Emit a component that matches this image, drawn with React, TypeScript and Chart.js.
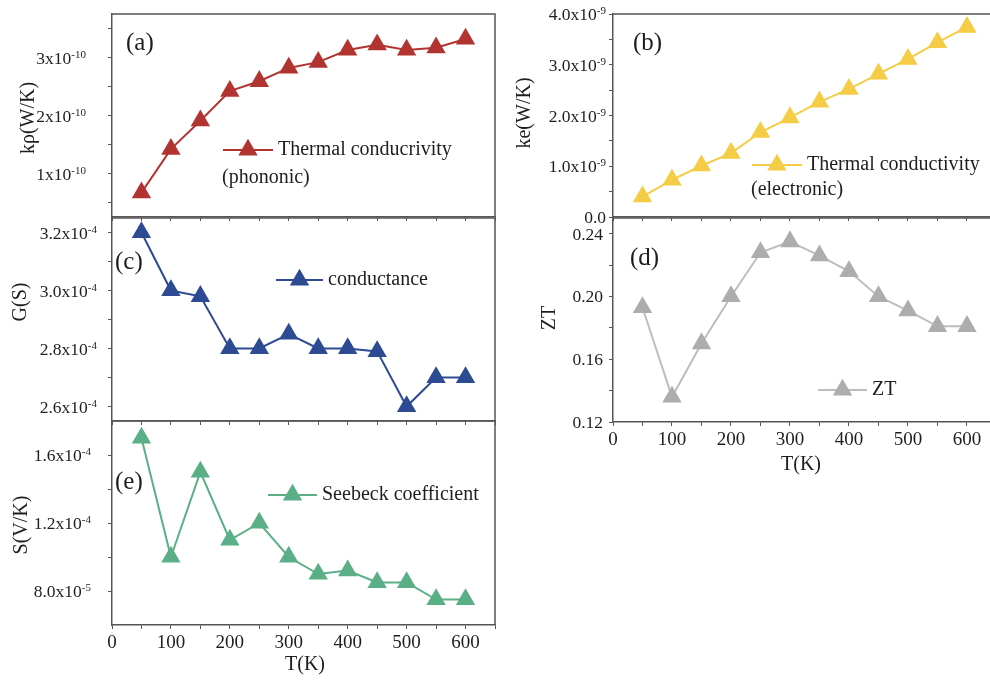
import React, { useEffect, useRef } from 'react';
import { Chart, registerables } from 'chart.js';

Chart.register(...registerables);

const W = 990;
const H = 684;
const FONT = '"Liberation Serif", "Times New Roman", serif';
const TEXT = '#1e1e1e';
const AXIS = '#555555';

// ---- data ----
const temperatures = [50, 100, 150, 200, 250, 300, 350, 400, 450, 500, 550, 600];
const kPhonon = [0.67e-10, 1.42e-10, 1.91e-10, 2.42e-10, 2.59e-10, 2.82e-10, 2.92e-10, 3.13e-10, 3.22e-10, 3.13e-10, 3.17e-10, 3.32e-10];
const kElectron = [0.40e-9, 0.73e-9, 1.01e-9, 1.26e-9, 1.67e-9, 1.96e-9, 2.27e-9, 2.52e-9, 2.82e-9, 3.11e-9, 3.44e-9, 3.74e-9];
const conductance = [3.20e-4, 3.00e-4, 2.98e-4, 2.80e-4, 2.80e-4, 2.85e-4, 2.80e-4, 2.80e-4, 2.79e-4, 2.60e-4, 2.70e-4, 2.70e-4];
const zt = [0.193, 0.136, 0.170, 0.200, 0.228, 0.235, 0.226, 0.216, 0.200, 0.191, 0.181, 0.181];
const seebeck = [1.70e-4, 1.00e-4, 1.50e-4, 1.10e-4, 1.20e-4, 1.00e-4, 0.90e-4, 0.92e-4, 0.85e-4, 0.85e-4, 0.75e-4, 0.75e-4];

// ---- ticks ----
const xMajorTicks = [0, 100, 200, 300, 400, 500, 600];
const xMinorTicks = [50, 150, 250, 350, 450, 550, 650];

// labels: [mantissa, exponent]
const kpMajorTicks = [1e-10, 2e-10, 3e-10];
const kpMajorLabels = [['1x10', '-10'], ['2x10', '-10'], ['3x10', '-10']];
const kpMinorTicks = [0.5e-10, 1.5e-10, 2.5e-10, 3.5e-10];

const keMajorTicks = [0, 1e-9, 2e-9, 3e-9, 4e-9];
const keMajorLabels = [['0.0', ''], ['1.0x10', '-9'], ['2.0x10', '-9'], ['3.0x10', '-9'], ['4.0x10', '-9']];
const keMinorTicks = [0.5e-9, 1.5e-9, 2.5e-9, 3.5e-9];

const gMajorTicks = [2.6e-4, 2.8e-4, 3.0e-4, 3.2e-4];
const gMajorLabels = [['2.6x10', '-4'], ['2.8x10', '-4'], ['3.0x10', '-4'], ['3.2x10', '-4']];
const gMinorTicks = [2.7e-4, 2.9e-4, 3.1e-4];

const ztMajorTicks = [0.12, 0.16, 0.20, 0.24];
const ztMajorLabels = [['0.12', ''], ['0.16', ''], ['0.20', ''], ['0.24', '']];
const ztMinorTicks = [0.14, 0.18, 0.22];

const sMajorTicks = [0.8e-4, 1.2e-4, 1.6e-4];
const sMajorLabels = [['8.0x10', '-5'], ['1.2x10', '-4'], ['1.6x10', '-4']];
const sMinorTicks = [1.0e-4, 1.4e-4];

type Panel = {
  area: [number, number, number, number];
  xMax: number;
  showX: boolean;
  yMin: number;
  yMax: number;
  yMajor: number[];
  yLabels: string[][];
  yMinor: number[];
  yLabelRight: number;
  values: number[];
  color: string;
  lineColor: string;
  legend: string;
  legend2?: string;
  tag: string;
  tagPos: [number, number];
  legPos: [number, number, number];
  leg2Pos?: [number, number];
  yTitle: string;
  yTitlePos: [number, number];
  xTitleY?: number;
  xTitleX?: number;
};

const panels: Panel[] = [
  {
    area: [112, 14, 495, 217], xMax: 650, showX: false,
    yMin: 0.25e-10, yMax: 3.75e-10, yMajor: kpMajorTicks, yLabels: kpMajorLabels, yMinor: kpMinorTicks, yLabelRight: 86,
    values: kPhonon, color: '#B23431', lineColor: '#B23431',
    legend: 'Thermal conducrivity', legend2: '(phononic)', tag: '(a)', tagPos: [14, 29],
    legPos: [111, 161, 136], leg2Pos: [110, 164], yTitle: 'kρ(W/K)', yTitlePos: [29, 118],
  },
  {
    area: [613, 14, 990, 217], xMax: 639, showX: false,
    yMin: 0, yMax: 4e-9, yMajor: keMajorTicks, yLabels: keMajorLabels, yMinor: keMinorTicks, yLabelRight: 606,
    values: kElectron, color: '#F4CC45', lineColor: '#F4CC45',
    legend: 'Thermal conductivity', legend2: '(electronic)', tag: '(b)', tagPos: [20, 29],
    legPos: [139, 189, 151], leg2Pos: [138, 176], yTitle: 'ke(W/K)', yTitlePos: [525, 113],
  },
  {
    area: [112, 218, 495, 421], xMax: 650, showX: false,
    yMin: 2.55e-4, yMax: 3.25e-4, yMajor: gMajorTicks, yLabels: gMajorLabels, yMinor: gMinorTicks, yLabelRight: 97,
    values: conductance, color: '#2C4B93', lineColor: '#2C4B93',
    legend: 'conductance', tag: '(c)', tagPos: [3, 44],
    legPos: [164, 211, 62], yTitle: 'G(S)', yTitlePos: [21, 302],
  },
  {
    area: [613, 218, 990, 422], xMax: 639, showX: true,
    yMin: 0.12, yMax: 0.25, yMajor: ztMajorTicks, yLabels: ztMajorLabels, yMinor: ztMinorTicks, yLabelRight: 603,
    values: zt, color: '#ADADAD', lineColor: '#BDBDBD',
    legend: 'ZT', tag: '(d)', tagPos: [17, 40],
    legPos: [205, 254, 172], yTitle: 'ZT', yTitlePos: [550, 318], xTitleY: 465, xTitleX: 801,
  },
  {
    area: [112, 421, 495, 625], xMax: 650, showX: true,
    yMin: 0.6e-4, yMax: 1.8e-4, yMajor: sMajorTicks, yLabels: sMajorLabels, yMinor: sMinorTicks, yLabelRight: 91,
    values: seebeck, color: '#5BAF87', lineColor: '#5BAF87',
    legend: 'Seebeck coefficient', tag: '(e)', tagPos: [3, 61],
    legPos: [156, 205, 74], yTitle: 'S(V/K)', yTitlePos: [22, 525], xTitleY: 665, xTitleX: 305,
  },
];

const POINT_R = 11.2;

function triangle(ctx: CanvasRenderingContext2D, x: number, y: number, r: number, color: string) {
  ctx.beginPath();
  for (let i = 0; i < 3; i++) {
    const a = (i * 2 * Math.PI) / 3;
    const px = x + Math.sin(a) * r;
    const py = y - Math.cos(a) * r;
    if (i === 0) ctx.moveTo(px, py);
    else ctx.lineTo(px, py);
  }
  ctx.closePath();
  ctx.fillStyle = color;
  ctx.fill();
}

function annotPlugin(p: Panel) {
  return {
    id: 'annot',
    afterDraw(chart: any) {
      const ctx: CanvasRenderingContext2D = chart.ctx;
      const { left, top, right, bottom } = chart.chartArea;
      const xs = chart.scales.x;
      const ys = chart.scales.y;
      ctx.save();
      // frame: top and right
      ctx.strokeStyle = AXIS;
      ctx.lineWidth = 1.5;
      ctx.beginPath();
      ctx.moveTo(left, top);
      ctx.lineTo(right, top);
      if (right < W - 1) ctx.lineTo(right, bottom);
      ctx.stroke();

      ctx.fillStyle = TEXT;

      // y tick labels with superscript exponent
      ctx.textAlign = 'left';
      ctx.textBaseline = 'alphabetic';
      p.yMajor.forEach((v, i) => {
        const py = ys.getPixelForValue(v);
        const [base, exp] = p.yLabels[i];
        ctx.font = `17.5px ${FONT}`;
        const bw = ctx.measureText(base).width;
        ctx.font = `11px ${FONT}`;
        const ew = exp ? ctx.measureText(exp).width : 0;
        const x0 = p.yLabelRight - bw - ew;
        ctx.font = `17.5px ${FONT}`;
        ctx.fillText(base, x0, py + 6);
        if (exp) {
          ctx.font = `11px ${FONT}`;
          ctx.fillText(exp, x0 + bw, py);
        }
      });

      // x tick labels
      if (p.showX) {
        ctx.textAlign = 'center';
        ctx.textBaseline = 'middle';
        ctx.font = `19px ${FONT}`;
        xMajorTicks.forEach((v) => {
          const px = xs.getPixelForValue(v);
          ctx.fillText(String(v), px, bottom + 18);
        });
      }

      ctx.textBaseline = 'middle';
      ctx.textAlign = 'left';
      // panel tag
      ctx.font = `25px ${FONT}`;
      ctx.fillText(p.tag, left + p.tagPos[0], top + p.tagPos[1]);

      // legend
      const [lx0, lx1, ly] = p.legPos;
      ctx.strokeStyle = p.lineColor;
      ctx.lineWidth = 2;
      ctx.beginPath();
      ctx.moveTo(left + lx0, top + ly);
      ctx.lineTo(left + lx1, top + ly);
      ctx.stroke();
      triangle(ctx, left + (lx0 + lx1) / 2, top + ly, POINT_R, p.color);
      ctx.fillStyle = TEXT;
      ctx.font = `20px ${FONT}`;
      ctx.fillText(p.legend, left + lx1 + 5, top + ly);
      if (p.legend2 && p.leg2Pos) {
        ctx.fillText(p.legend2, left + p.leg2Pos[0], top + p.leg2Pos[1]);
      }

      // y title
      ctx.save();
      ctx.translate(p.yTitlePos[0], p.yTitlePos[1]);
      ctx.rotate(-Math.PI / 2);
      ctx.textAlign = 'center';
      ctx.font = `20px ${FONT}`;
      ctx.fillText(p.yTitle, 0, 0);
      ctx.restore();

      // x title
      if (p.showX && p.xTitleY && p.xTitleX) {
        ctx.textAlign = 'center';
        ctx.font = `20px ${FONT}`;
        ctx.fillText('T(K)', p.xTitleX, p.xTitleY);
      }
      ctx.restore();
    },
  };
}

function makeChart(canvas: HTMLCanvasElement, p: Panel) {
  const [l, t, r, b] = p.area;
  const yTicks = [...p.yMajor, ...p.yMinor].sort((a, c) => a - c);
  const xTicks = [...xMajorTicks, ...xMinorTicks].filter((v) => v <= p.xMax).sort((a, c) => a - c);
  return new Chart(canvas, {
    type: 'line',
    data: {
      datasets: [
        {
          label: p.legend,
          data: temperatures.map((x, i) => ({ x, y: p.values[i] })),
          borderColor: p.lineColor,
          backgroundColor: p.color,
          pointBackgroundColor: p.color,
          pointBorderColor: p.color,
          pointBorderWidth: 0,
          pointStyle: 'triangle',
          pointRadius: POINT_R,
          borderWidth: 2,
          tension: 0,
          clip: false,
        } as any,
      ],
    },
    options: {
      responsive: false,
      animation: false,
      devicePixelRatio: 1,
      layout: { autoPadding: false, padding: { left: l, top: t, right: W - r, bottom: H - b } },
      plugins: { legend: { display: false }, tooltip: { enabled: false } },
      scales: {
        x: {
          type: 'linear',
          min: 0,
          max: p.xMax,
          bounds: 'data',
          afterFit: (s: any) => {
            s.height = 0;
          },
          afterBuildTicks: (s: any) => {
            s.ticks = xTicks.map((v) => ({ value: v }));
          },
          grid: { display: true, drawOnChartArea: false, drawTicks: true, tickLength: 4, color: AXIS, lineWidth: 1 },
          border: { display: true, color: AXIS, width: 1.5 },
          ticks: { display: false, autoSkip: false },
        },
        y: {
          type: 'linear',
          min: p.yMin,
          max: p.yMax,
          bounds: 'data',
          afterFit: (s: any) => {
            s.width = 0;
          },
          afterBuildTicks: (s: any) => {
            s.ticks = yTicks.map((v) => ({ value: v }));
          },
          grid: { display: true, drawOnChartArea: false, drawTicks: true, tickLength: 4, color: AXIS, lineWidth: 1 },
          border: { display: true, color: AXIS, width: 1.5 },
          ticks: { display: false, autoSkip: false },
        },
      },
    } as any,
    plugins: [annotPlugin(p)],
  });
}

export default function App() {
  const refs = useRef<(HTMLCanvasElement | null)[]>([]);
  useEffect(() => {
    const charts = panels.map((p, i) => makeChart(refs.current[i] as HTMLCanvasElement, p));
    return () => charts.forEach((c) => c.destroy());
  }, []);
  return (
    <div style={{ position: 'fixed', left: 0, top: 0, width: W, height: H, background: '#ffffff', overflow: 'hidden' }}>
      {panels.map((_, i) => (
        <canvas
          key={i}
          ref={(el) => {
            refs.current[i] = el;
          }}
          width={W}
          height={H}
          style={{ position: 'absolute', left: 0, top: 0, width: W, height: H }}
        />
      ))}
    </div>
  );
}
